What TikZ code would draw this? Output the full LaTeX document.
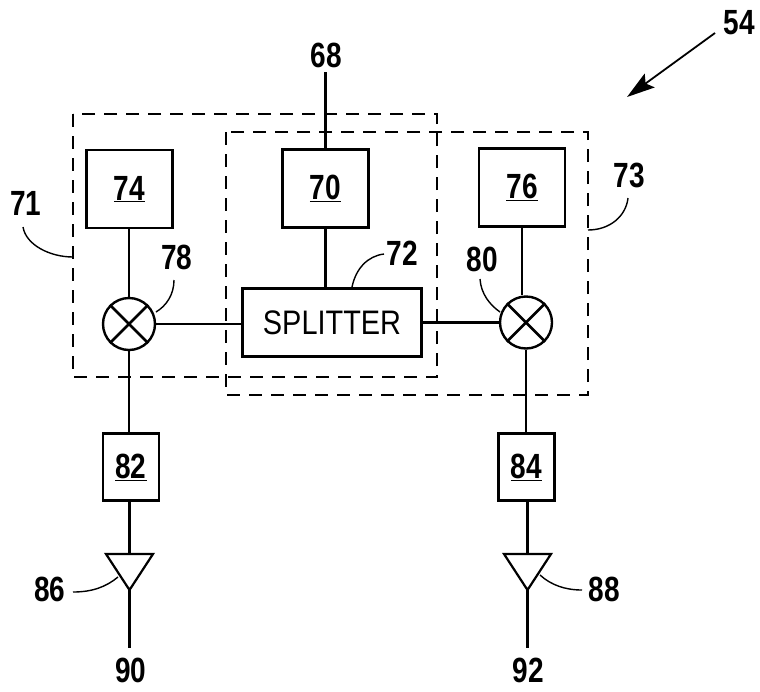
\documentclass[tikz,border=0pt]{standalone}
\usepackage{fontspec}
\setmainfont{Liberation Sans}
\newfontface\lblf[FakeStretch=0.8]{Liberation Sans Bold}
\newfontface\splf[FakeStretch=0.85]{Liberation Sans}
\usetikzlibrary{arrows.meta,shapes.geometric}
\tikzset{
 wire/.style={line width=2.2pt,black},
 boxn/.style={draw,line width=2.2pt,inner sep=0pt,font=\fontsize{35}{38}\lblf},
 lbl/.style={inner sep=0pt,font=\fontsize{35}{38}\lblf},
 dash box/.style={draw,line width=2.4pt,dash pattern=on 13pt off 9pt},
 lead/.style={line width=1.4pt},
 mixer/.style={draw,circle,line width=2.4pt,minimum size=52pt,inner sep=0pt},
 cross/.style={line width=2.6pt},
 amp/.style={line width=2.2pt,line join=miter},
}
\begin{document}
\begin{tikzpicture}[x=1pt,y=-1pt]
\useasboundingbox (0,0) rectangle (760,691);
\node[boxn,minimum width=86pt,minimum height=78pt] (b74) at (129.5,189) {\underline{74}};
\node[boxn,minimum width=86pt,minimum height=78pt] (b70) at (325.5,188.5) {\underline{70}};
\node[boxn,minimum width=86pt,minimum height=78pt] (b76) at (522,187.5) {\underline{76}};
\node[draw,line width=2.2pt,minimum width=179pt,minimum height=68pt,inner sep=0pt,font=\fontsize{34}{36}\splf] (sp) at (332,322.5) {SPLITTER};
\node[mixer] (m78) at (129,324) {};
\node[mixer] (m80) at (526,322.5) {};
\draw[cross] (m78.45)--(m78.225) (m78.135)--(m78.-45);
\draw[cross] (m80.45)--(m80.225) (m80.135)--(m80.-45);
\node[boxn,minimum width=56pt,minimum height=67pt] (b82) at (131,467) {\underline{82}};
\node[boxn,minimum width=56pt,minimum height=67pt] (b84) at (526.5,467) {\underline{84}};
\coordinate (a86t) at (129.5,554);
\coordinate (a86l) at (106,554);
\coordinate (a86r) at (153,554);
\coordinate (a86b) at (129.5,590);
\coordinate (e90) at (129.5,648);
\coordinate (a88t) at (527.5,554);
\coordinate (a88l) at (504,554);
\coordinate (a88r) at (551,554);
\coordinate (a88b) at (527.5,590);
\coordinate (e92) at (527.5,648);
\draw[amp] (a86l)--(a86r)--(a86b)--cycle;
\draw[amp] (a88l)--(a88r)--(a88b)--cycle;
\node[lbl] (t68) at (326,55) {68};
\node[lbl] (t54) at (739,23) {54};
\node[lbl] (t90) at (131,670) {90};
\node[lbl] (t92) at (528,670) {92};
\node[lbl] (t71) at (26,203) {71};
\node[lbl] (t73) at (629,175) {73};
\node[lbl] (t78) at (177,257) {78};
\node[lbl] (t72) at (402,253) {72};
\node[lbl] (t80) at (482,259) {80};
\node[lbl] (t86) at (50,589) {86};
\node[lbl] (t88) at (604,589) {88};
\coordinate (s68) at (325.5,72);
\draw[wire] (s68) -- (b70.north);
\draw[wire] (b74.south-|m78)--(m78);
\draw[wire] (b70)--(b70|-sp.north);
\draw[wire] (m80.north-|b76)--(b76.south);
\draw[wire] (m78)--(sp.west|-m78);
\draw[wire] (sp.east|-m80)--(m80);
\draw[wire] (m78.south)--(m78|-b82.north);
\draw[wire] (m80.south)--(m80|-b84.north);
\draw[wire] (a86t|-b82.south)--(a86t);
\draw[wire] (a88t|-b84.south)--(a88t);
\draw[wire] (a86b)--(e90);
\draw[wire] (a88b)--(e92);
\draw[dash box] (73,114) rectangle (437,377);
\draw[dash box] (226,132) rectangle (588,395);
\coordinate (c54a) at (715,33);
\coordinate (c54b) at (627,97);
\draw[line width=1.8pt,-{Stealth[length=28pt,width=17pt,inset=5pt]}] (c54a)--(c54b);
\draw[lead] (23,227) .. controls (26,245) and (50,257) .. (73,257);
\draw[lead] (628,198) .. controls (626,216) and (610,230) .. (588,230);
\draw[lead] (174,280) .. controls (174,295) and (166,306) .. (156,312);
\draw[lead] (352,287) .. controls (356,268) and (368,256) .. (384,254);
\draw[lead] (480,279) .. controls (481,294) and (490,305) .. (500,312);
\draw[lead] (73,592) .. controls (92,592) and (106,587) .. (118,577);
\draw[lead] (582,590) .. controls (565,590) and (551,585) .. (540,575);
\end{tikzpicture}
\end{document}
